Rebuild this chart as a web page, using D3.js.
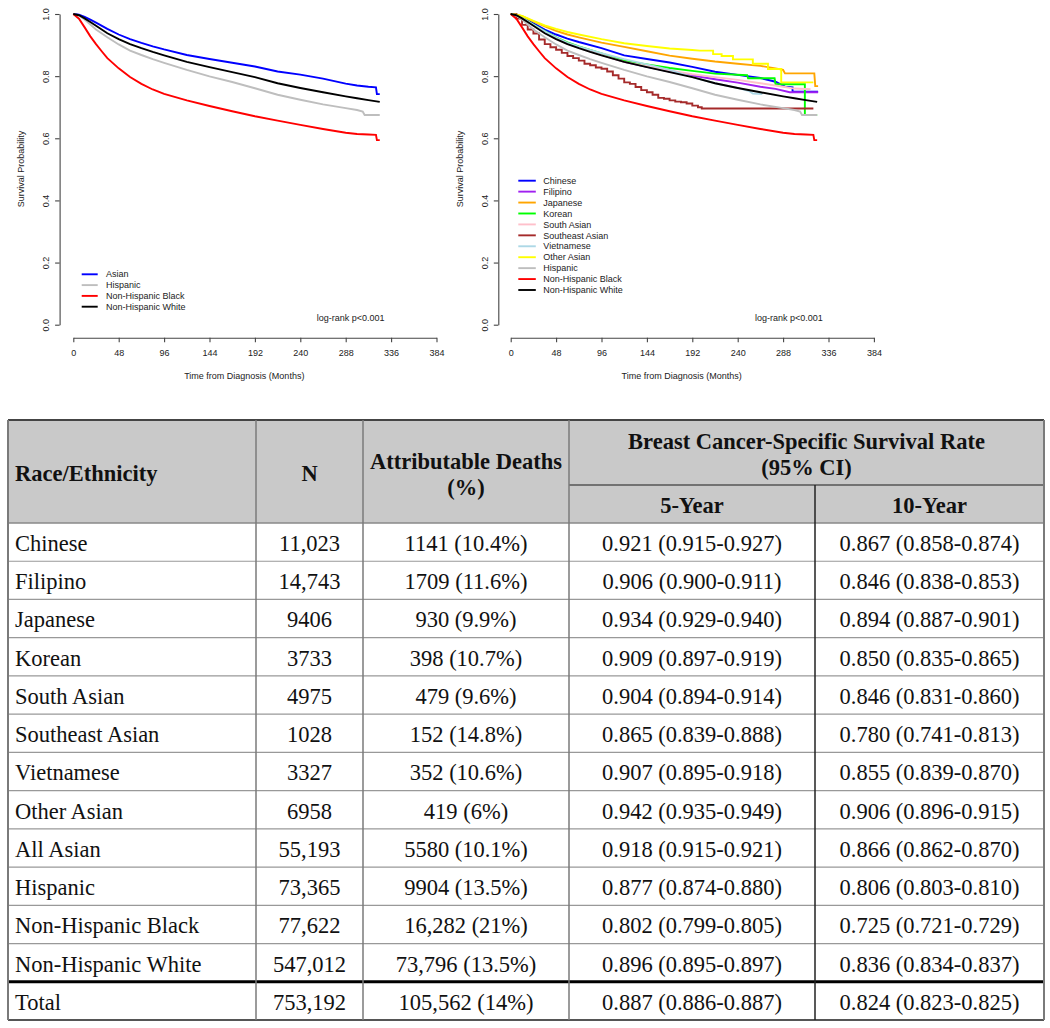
<!DOCTYPE html>
<html><head><meta charset="utf-8">
<script src="https://cdn.jsdelivr.net/npm/d3@7"></script>
<style>
html,body{margin:0;padding:0;background:#fff;}
svg{display:block;}
</style></head><body>
<svg id="chart" width="1050" height="1028"></svg>
<script>
// ---------- Axis ticks ----------
const xTicks = [0, 48, 96, 144, 192, 240, 288, 336, 384];
const yTicks = [0, 0.2, 0.4, 0.6, 0.8, 1.0];

// ---------- Kaplan-Meier curves (months, survival probability) ----------
const asianMonths = [0,6,12,18,24,36,48,60,72,84,96,120,144,168,192,216,240,264,288,300,312,320,321,324];
const asianSurv   = [1,0.998,0.991,0.982,0.972,0.952,0.934,0.919,0.907,0.896,0.886,0.868,0.855,0.843,0.831,0.815,0.805,0.792,0.776,0.770,0.766,0.764,0.742,0.742];

const hispanicMonths = [0,6,12,18,24,36,48,60,72,84,96,120,144,168,192,216,240,264,288,300,306,308,324];
const hispanicSurv   = [1,0.995,0.982,0.966,0.950,0.925,0.902,0.882,0.868,0.855,0.843,0.820,0.799,0.781,0.761,0.740,0.724,0.709,0.697,0.691,0.686,0.675,0.675];

const nhBlackMonths = [0,6,12,18,24,30,36,48,60,72,84,96,120,144,168,192,216,240,264,288,300,312,320,321,324];
const nhBlackSurv   = [1,0.985,0.957,0.928,0.903,0.880,0.858,0.825,0.797,0.775,0.757,0.743,0.722,0.704,0.687,0.671,0.657,0.643,0.630,0.618,0.614,0.612,0.611,0.594,0.594];

const nhWhiteMonths = [0,6,12,18,24,36,48,60,72,84,96,120,144,168,192,216,240,264,288,300,312,324];
const nhWhiteSurv   = [1,0.996,0.986,0.974,0.962,0.938,0.919,0.903,0.890,0.878,0.867,0.846,0.829,0.813,0.797,0.777,0.762,0.748,0.735,0.729,0.723,0.717];

const chineseMonths = [0,6,12,24,36,48,60,72,96,120,144,168,192,216,240,264,280,290,298,298,325];
const chineseSurv   = [1,0.997,0.990,0.970,0.950,0.934,0.921,0.910,0.890,0.867,0.855,0.844,0.830,0.814,0.804,0.794,0.782,0.766,0.764,0.750,0.750];

const filipinoMonths = [0,6,12,24,36,48,60,72,96,120,144,168,192,216,240,264,280,295,325];
const filipinoSurv   = [1,0.997,0.988,0.965,0.943,0.923,0.906,0.893,0.869,0.846,0.830,0.815,0.802,0.790,0.779,0.766,0.759,0.748,0.748];

const japaneseMonths = [0,6,12,24,36,48,60,72,96,120,144,168,192,216,240,264,280,288,290,321,322,325];
const japaneseSurv   = [1,0.998,0.993,0.976,0.960,0.946,0.934,0.925,0.908,0.894,0.880,0.866,0.856,0.847,0.840,0.833,0.825,0.820,0.809,0.809,0.768,0.768];

const koreanMonths = [0,6,12,24,36,48,60,72,96,120,144,168,192,216,250,251,279,280,311,311,324];
const koreanSurv   = [1,0.997,0.988,0.966,0.945,0.925,0.909,0.896,0.873,0.850,0.838,0.826,0.817,0.808,0.803,0.793,0.793,0.774,0.774,0.675,0.675];

const southAsianMonths = [0,6,12,24,36,48,60,72,96,120,144,168,192,216,240,264,290,300,317];
const southAsianSurv   = [1,0.997,0.987,0.963,0.940,0.920,0.904,0.891,0.868,0.846,0.832,0.818,0.806,0.797,0.788,0.777,0.765,0.760,0.758];

const seAsianMonths = [0,6,12,18,24,30,36,42,48,54,60,66,72,78,84,90,96,102,108,114,120,126,132,138,144,150,156,162,168,174,180,186,192,198,202,320];
const seAsianSurv   = [1,0.985,0.965,0.950,0.937,0.918,0.903,0.893,0.885,0.875,0.865,0.858,0.850,0.840,0.835,0.828,0.824,0.815,0.803,0.792,0.780,0.775,0.765,0.755,0.748,0.740,0.730,0.727,0.722,0.718,0.716,0.712,0.705,0.700,0.696,0.696];

const vietMonths = [0,6,12,24,36,48,60,72,96,120,144,168,192,216,240,252,256,266];
const vietSurv   = [1,0.997,0.988,0.965,0.944,0.924,0.907,0.895,0.874,0.855,0.838,0.820,0.797,0.777,0.762,0.752,0.744,0.742];

const otherAsianMonths = [0,6,12,24,36,48,60,72,96,120,144,168,192,200,214,214,223,223,235,235,256,256,272,272,286,286,320];
const otherAsianSurv   = [1,0.998,0.994,0.978,0.963,0.952,0.942,0.934,0.919,0.906,0.897,0.889,0.884,0.882,0.882,0.871,0.871,0.865,0.865,0.854,0.854,0.840,0.840,0.823,0.823,0.780,0.780];

// ---------- Table ----------
const races = ["Chinese","Filipino","Japanese","Korean","South Asian","Southeast Asian","Vietnamese","Other Asian","All Asian","Hispanic","Non-Hispanic Black","Non-Hispanic White","Total"];
const nValues = ["11,023","14,743","9406","3733","4975","1028","3327","6958","55,193","73,365","77,622","547,012","753,192"];
const deaths = ["1141 (10.4%)","1709 (11.6%)","930 (9.9%)","398 (10.7%)","479 (9.6%)","152 (14.8%)","352 (10.6%)","419 (6%)","5580 (10.1%)","9904 (13.5%)","16,282 (21%)","73,796 (13.5%)","105,562 (14%)"];
const fiveYear = ["0.921 (0.915-0.927)","0.906 (0.900-0.911)","0.934 (0.929-0.940)","0.909 (0.897-0.919)","0.904 (0.894-0.914)","0.865 (0.839-0.888)","0.907 (0.895-0.918)","0.942 (0.935-0.949)","0.918 (0.915-0.921)","0.877 (0.874-0.880)","0.802 (0.799-0.805)","0.896 (0.895-0.897)","0.887 (0.886-0.887)"];
const tenYear = ["0.867 (0.858-0.874)","0.846 (0.838-0.853)","0.894 (0.887-0.901)","0.850 (0.835-0.865)","0.846 (0.831-0.860)","0.780 (0.741-0.813)","0.855 (0.839-0.870)","0.906 (0.896-0.915)","0.866 (0.862-0.870)","0.806 (0.803-0.810)","0.725 (0.721-0.729)","0.836 (0.834-0.837)","0.824 (0.823-0.825)"];

// ---------- Series definitions ----------
const zip = (t, s) => t.map((m, i) => [m, s[i]]);
const leftSeries = [
  {name:"Asian", color:"#0000ff", pts: zip(asianMonths, asianSurv)},
  {name:"Hispanic", color:"#bebebe", pts: zip(hispanicMonths, hispanicSurv)},
  {name:"Non-Hispanic Black", color:"#ff0000", pts: zip(nhBlackMonths, nhBlackSurv)},
  {name:"Non-Hispanic White", color:"#000000", pts: zip(nhWhiteMonths, nhWhiteSurv)}
];
const rightSeries = [
  {name:"Chinese", color:"#0000ff", pts: zip(chineseMonths, chineseSurv)},
  {name:"Filipino", color:"#a020f0", pts: zip(filipinoMonths, filipinoSurv)},
  {name:"Japanese", color:"#ffa500", pts: zip(japaneseMonths, japaneseSurv)},
  {name:"Korean", color:"#00ff00", pts: zip(koreanMonths, koreanSurv)},
  {name:"South Asian", color:"#ffc0cb", pts: zip(southAsianMonths, southAsianSurv)},
  {name:"Southeast Asian", color:"#a52a2a", pts: zip(seAsianMonths, seAsianSurv), step:true},
  {name:"Vietnamese", color:"#add8e6", pts: zip(vietMonths, vietSurv)},
  {name:"Other Asian", color:"#ffff00", pts: zip(otherAsianMonths, otherAsianSurv)},
  {name:"Hispanic", color:"#bebebe", pts: zip(hispanicMonths, hispanicSurv)},
  {name:"Non-Hispanic Black", color:"#ff0000", pts: zip(nhBlackMonths, nhBlackSurv)},
  {name:"Non-Hispanic White", color:"#000000", pts: zip(nhWhiteMonths, nhWhiteSurv)}
];

const svg = d3.select("#chart");
const SANS = "'Liberation Sans', Arial, sans-serif";
const SERIF = "'Liberation Serif', 'Times New Roman', serif";

function drawPanel(o) {
  const x = d3.scaleLinear().domain([0, 384]).range([o.x0, o.x0 + 363.2]);
  const y = d3.scaleLinear().domain([0, 1]).range([324.7, 14]);
  const g = svg.append("g");

  const ya = g.append("g").attr("transform", `translate(${o.axisX},0)`)
    .call(d3.axisLeft(y).tickValues(yTicks).tickFormat(d3.format(".1f")).tickSize(4.5).tickSizeOuter(0));
  ya.selectAll("text").attr("transform", "rotate(-90)").attr("x", 0).attr("y", -10.5).attr("dy", 0)
    .attr("text-anchor", "middle");
  const xa = g.append("g").attr("transform", "translate(0,337.7)")
    .call(d3.axisBottom(x).tickValues(xTicks).tickSize(4.5).tickSizeOuter(0).tickPadding(7));
  [ya, xa].forEach(a => {
    a.attr("font-family", SANS).attr("font-size", 9);
    a.selectAll("path,line").attr("stroke", "#444").attr("stroke-width", 1.1);
    a.selectAll("text").attr("fill", "#222");
  });

  g.append("text").attr("transform", `translate(${o.axisX - 35.6},169) rotate(-90)`)
    .attr("text-anchor", "middle").attr("font-family", SANS).attr("font-size", 9).attr("fill", "#222")
    .text("Survival Probability");
  g.append("text").attr("x", o.x0 + 171).attr("y", 378.5)
    .attr("text-anchor", "middle").attr("font-family", SANS).attr("font-size", 9).attr("fill", "#222")
    .text("Time from Diagnosis (Months)");

  const lineLin = d3.line().x(d => x(d[0])).y(d => y(d[1]));
  const lineStep = d3.line().x(d => x(d[0])).y(d => y(d[1])).curve(d3.curveStepAfter);
  g.append("g").selectAll("path").data(o.series).join("path")
    .attr("d", s => (s.step ? lineStep : lineLin)(s.pts))
    .attr("fill", "none").attr("stroke", s => s.color).attr("stroke-width", 1.9)
    .attr("stroke-linejoin", "miter");

  const lg = g.append("g");
  o.series.forEach((s, i) => {
    const cy = o.legY + i * o.legStep;
    lg.append("line").attr("x1", o.legX).attr("x2", o.legX + o.legLen).attr("y1", cy).attr("y2", cy)
      .attr("stroke", s.color).attr("stroke-width", 1.9);
    lg.append("text").attr("x", o.legTextX).attr("y", cy).attr("dy", "0.35em")
      .attr("font-family", SANS).attr("font-size", 9).attr("fill", "#222").text(s.name);
  });
  g.append("text").attr("x", o.logX).attr("y", 317.7).attr("dy", "0.35em")
    .attr("font-family", SANS).attr("font-size", 9).attr("fill", "#222").text("log-rank p<0.001");
}

drawPanel({x0: 73.3, axisX: 59.6, series: leftSeries, legX: 81.7, legLen: 16, legTextX: 106,
  legY: 274.3, legStep: 10.8, logX: 316.7});
drawPanel({x0: 510.7, axisX: 498.3, series: rightSeries, legX: 518.3, legLen: 17.5, legTextX: 543.3,
  legY: 180.7, legStep: 10.93, logX: 755});

// ---------- Table drawing ----------
const colX = [8, 256, 363, 569, 815, 1044];
const tTop = 420, tMid = 485, hBot = 523, tBot = 1020;
const rowY = d3.scaleBand().domain(races).range([hBot, tBot]);
const tg = svg.append("g");

tg.append("rect").attr("x", colX[0]).attr("y", tTop).attr("width", colX[5] - colX[0]).attr("height", hBot - tTop)
  .attr("fill", "#c9c9c9");

// horizontal row lines
races.forEach((r, i) => {
  if (i === 0) return;
  const yy = rowY(r);
  tg.append("line").attr("x1", colX[0]).attr("x2", colX[5]).attr("y1", yy).attr("y2", yy)
    .attr("stroke", r === "Total" ? "#000" : "#999").attr("stroke-width", r === "Total" ? 3 : 1.2);
});
tg.append("line").attr("x1", colX[0]).attr("x2", colX[5]).attr("y1", hBot).attr("y2", hBot).attr("stroke", "#888").attr("stroke-width", 1.6);
tg.append("line").attr("x1", colX[3]).attr("x2", colX[5]).attr("y1", tMid).attr("y2", tMid).attr("stroke", "#555").attr("stroke-width", 1.4);
tg.append("line").attr("x1", colX[0]).attr("x2", colX[5]).attr("y1", tTop).attr("y2", tTop).attr("stroke", "#444").attr("stroke-width", 2);
tg.append("line").attr("x1", colX[0]).attr("x2", colX[5]).attr("y1", tBot).attr("y2", tBot).attr("stroke", "#555").attr("stroke-width", 2);
// vertical lines
[0, 1, 2, 3, 5].forEach(ci => {
  tg.append("line").attr("x1", colX[ci]).attr("x2", colX[ci]).attr("y1", tTop).attr("y2", tBot)
    .attr("stroke", "#7a7a7a").attr("stroke-width", ci === 0 || ci === 5 ? 2 : 1.5);
});
tg.append("line").attr("x1", colX[4]).attr("x2", colX[4]).attr("y1", tMid).attr("y2", tBot)
  .attr("stroke", "#222").attr("stroke-width", 1.5);

// header text
const hdr = (txt, xx, yy, anchor) => tg.append("text").attr("x", xx).attr("y", yy).attr("dy", "0.35em")
  .attr("text-anchor", anchor || "middle").attr("font-family", SERIF).attr("font-weight", "bold")
  .attr("font-size", 22.5).attr("fill", "#111").text(txt);
hdr("Race/Ethnicity", 15, 473, "start");
hdr("N", (colX[1] + colX[2]) / 2, 473);
hdr("Attributable Deaths", (colX[2] + colX[3]) / 2, 461);
hdr("(%)", (colX[2] + colX[3]) / 2, 487);
hdr("Breast Cancer-Specific Survival Rate", (colX[3] + colX[5]) / 2, 441.5);
hdr("(95% CI)", (colX[3] + colX[5]) / 2, 467);
hdr("5-Year", (colX[3] + colX[4]) / 2, 505.5);
hdr("10-Year", (colX[4] + colX[5]) / 2, 505.5);

// body text
const cols = [
  {vals: races, x: 15, anchor: "start"},
  {vals: nValues, x: (colX[1] + colX[2]) / 2},
  {vals: deaths, x: (colX[2] + colX[3]) / 2},
  {vals: fiveYear, x: (colX[3] + colX[4]) / 2},
  {vals: tenYear, x: (colX[4] + colX[5]) / 2}
];
cols.forEach(c => {
  tg.append("g").selectAll("text").data(c.vals).join("text")
    .attr("x", c.x).attr("y", (d, i) => rowY(races[i]) + rowY.bandwidth() / 2 + 1).attr("dy", "0.35em")
    .attr("text-anchor", c.anchor || "middle").attr("font-family", SERIF).attr("font-size", 22.5)
    .attr("fill", "#111").text(d => d);
});
</script>
</body></html>
